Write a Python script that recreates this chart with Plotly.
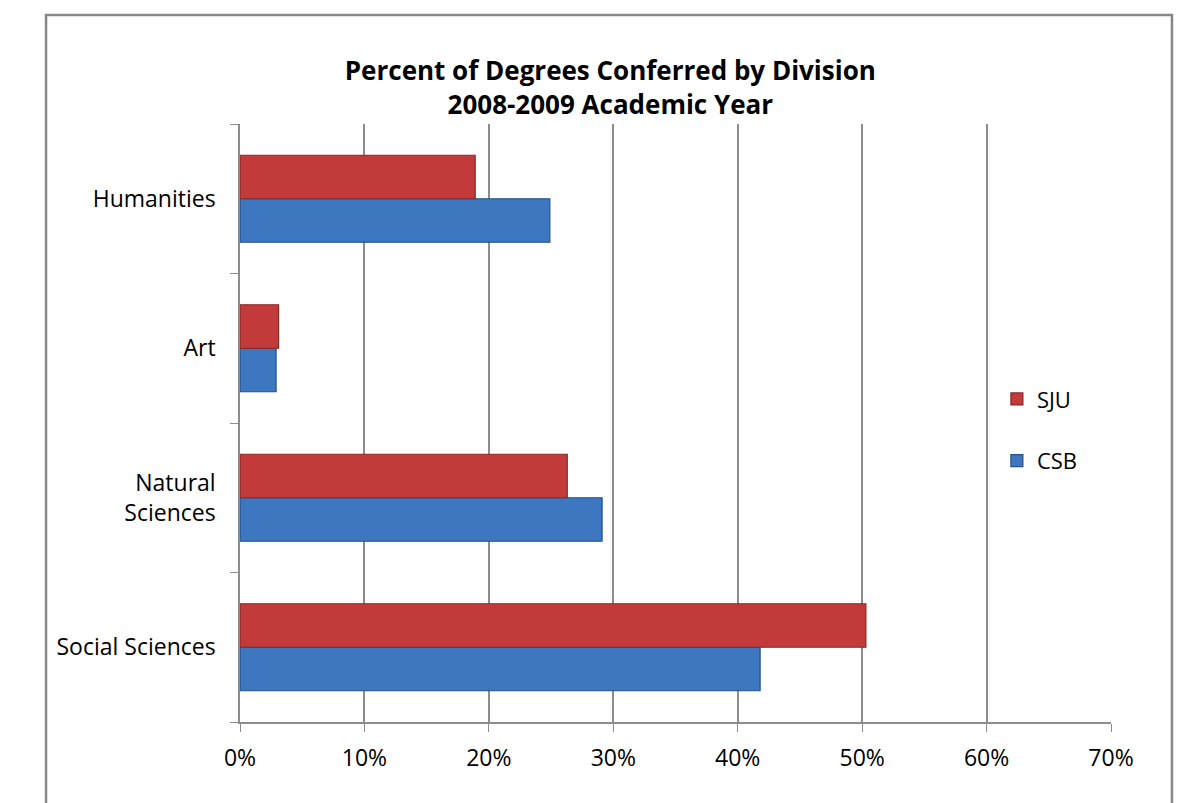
import plotly.graph_objects as go

categories = ["Social Sciences", "Natural<br>Sciences", "Art", "Humanities"]
csb_values = [0.418, 0.291, 0.029, 0.249]
sju_values = [0.503, 0.263, 0.031, 0.189]
x_ticks = [0, 0.1, 0.2, 0.3, 0.4, 0.5, 0.6, 0.7]
x_tick_labels = ["0%", "10%", "20%", "30%", "40%", "50%", "60%", "70%"]

FONT = "Open Sans"

fig = go.Figure()
fig.add_trace(go.Bar(
    y=categories, x=csb_values, orientation="h", name="CSB",
    legendgroup="csb", legendrank=2,
    marker=dict(color="#3C77C0", line=dict(color="#254F86", width=1.2)),
))
fig.add_trace(go.Bar(
    y=categories, x=sju_values, orientation="h", name="SJU",
    legendgroup="sju", legendrank=1,
    marker=dict(color="#C23B3A", line=dict(color="#8A2625", width=1.2)),
))

fig.update_layout(
    width=1188, height=795,
    margin=dict(l=232, r=85, t=116, b=81),
    paper_bgcolor="white", plot_bgcolor="white",
    barmode="group", bargap=0.418, bargroupgap=0,
    font=dict(family=FONT, size=23, color="black"),
    title=dict(
        text="<b>Percent of Degrees Conferred by Division<br>2008-2009 Academic Year</b>",
        x=0.507, xanchor="center", xref="container",
        y=0.909, yanchor="middle", yref="container",
        font=dict(family=FONT, size=26, color="black"),
    ),
    legend=dict(
        x=0.869, y=0.575, xanchor="left", yanchor="top",
        tracegroupgap=30,
        font=dict(family=FONT, size=22),
        itemwidth=30,
    ),
    xaxis=dict(
        range=[0, 0.7], tickvals=x_ticks, ticktext=x_tick_labels,
        showgrid=True, gridcolor="#8C8C8C", gridwidth=1.5,
        showline=True, linecolor="#8C8C8C", linewidth=1.5,
        ticks="outside", ticklen=8, tickcolor="#8C8C8C",
        zeroline=False, tickfont=dict(size=23), ticklabelstandoff=7,
    ),
    yaxis=dict(
        showline=True, linecolor="#8C8C8C", linewidth=1.5,
        ticks="outside", ticklen=8, tickcolor="#8C8C8C", tickson="boundaries",
        showgrid=False, tickfont=dict(size=23), ticklabelstandoff=18,
    ),
    shapes=[dict(
        type="rect", xref="paper", yref="paper",
        x0=-0.2227, x1=1.070, y0=-0.16, y1=1.1823,
        line=dict(color="#878787", width=2.5), fillcolor="rgba(0,0,0,0)",
        layer="below",
    )],
)

fig.write_html("out.html")
